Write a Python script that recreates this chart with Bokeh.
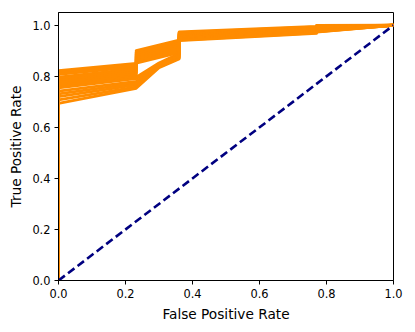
from bokeh.plotting import figure
from bokeh.models import Range1d, FixedTicker, PrintfTickFormatter
from bokeh.embed import file_html
from bokeh.resources import INLINE

# ROC knots (false positive rate) shared by the curves
fpr_step1 = 0.232
fpr_step2 = 0.36
fpr_step3 = 0.77
# per-curve x of the third knot
fpr_mid = [0.232] * 8 + [0.30] * 7

# true positive rates at each knot, one entry per curve
tpr_at_0 = [0.822, 0.815, 0.808, 0.797, 0.790, 0.783, 0.776, 0.769,
            0.762, 0.755, 0.742, 0.731, 0.720, 0.708, 0.694]
tpr_before_step1 = [0.851, 0.844, 0.837, 0.830, 0.823, 0.816, 0.809, 0.802,
                    0.797, 0.791, 0.780, 0.773, 0.766, 0.759, 0.753]
tpr_mid = [0.901, 0.894, 0.887, 0.880, 0.873, 0.866, 0.859, 0.852,
           0.852, 0.849, 0.846, 0.843, 0.840, 0.837, 0.834]
tpr_before_step2 = [0.942, 0.935, 0.928, 0.921, 0.914, 0.907, 0.900, 0.893,
                    0.889, 0.885, 0.881, 0.877, 0.874, 0.871, 0.868]
tpr_after_step2 = [0.974, 0.971, 0.969, 0.966, 0.964, 0.961, 0.959, 0.956,
                   0.954, 0.951, 0.949, 0.946, 0.944, 0.942, 0.940]
tpr_before_step3 = [0.996, 0.994, 0.992, 0.990, 0.988, 0.986, 0.984, 0.982,
                    0.980, 0.978, 0.976, 0.974, 0.972, 0.970, 0.968]
tpr_after_step3 = [0.999, 0.997, 0.995, 0.993, 0.991, 0.989, 0.987, 0.985,
                   0.983, 0.981, 0.979, 0.977, 0.975, 0.974, 0.973]

diag_x = [0.0, 1.0]
diag_y = [0.0, 1.0]
ticks = [0.0, 0.2, 0.4, 0.6, 0.8, 1.0]

xs, ys = [], []
for i in range(len(tpr_at_0)):
    xs.append([0.0, 0.0, fpr_step1, fpr_mid[i], fpr_step2, fpr_step2,
               fpr_step3, fpr_step3, 1.0])
    ys.append([0.0, tpr_at_0[i], tpr_before_step1[i], tpr_mid[i],
               tpr_before_step2[i], tpr_after_step2[i],
               tpr_before_step3[i], tpr_after_step3[i], 1.0])

p = figure(width=415, height=332, output_backend="svg", toolbar_location=None,
           x_range=Range1d(0, 1), y_range=Range1d(0, 1.05),
           min_border_left=58, min_border_right=22, min_border_top=12,
           min_border_bottom=52)

p.multi_line(xs, ys, line_color="#ff8c00", line_width=2.8, line_join="round")
p.line(diag_x, diag_y, line_color="navy", line_width=2.6, line_dash="8 4")

p.xgrid.visible = False
p.ygrid.visible = False
p.outline_line_color = "black"
p.outline_line_width = 1

for ax in (p.xaxis[0], p.yaxis[0]):
    ax.ticker = FixedTicker(ticks=ticks)
    ax.formatter = PrintfTickFormatter(format="%.1f")
    ax.major_tick_in = 0
    ax.major_tick_out = 4
    ax.minor_tick_line_color = None
    ax.major_label_text_font = "DejaVu Sans"
    ax.major_label_text_font_size = "11.4px"
    ax.major_label_text_color = "black"
    ax.axis_label_text_font = "DejaVu Sans"
    ax.axis_label_text_font_size = "13.7px"
    ax.axis_label_text_font_style = "normal"
    ax.axis_label_text_color = "black"
    ax.axis_line_color = "black"
    ax.major_tick_line_color = "black"
    ax.major_label_standoff = 4

p.xaxis.axis_label = "False Positive Rate"
p.yaxis.axis_label = "True Positive Rate"
p.xaxis.axis_label_standoff = 5
p.yaxis.axis_label_standoff = 5

open("out.html", "w").write(file_html(p, INLINE))
